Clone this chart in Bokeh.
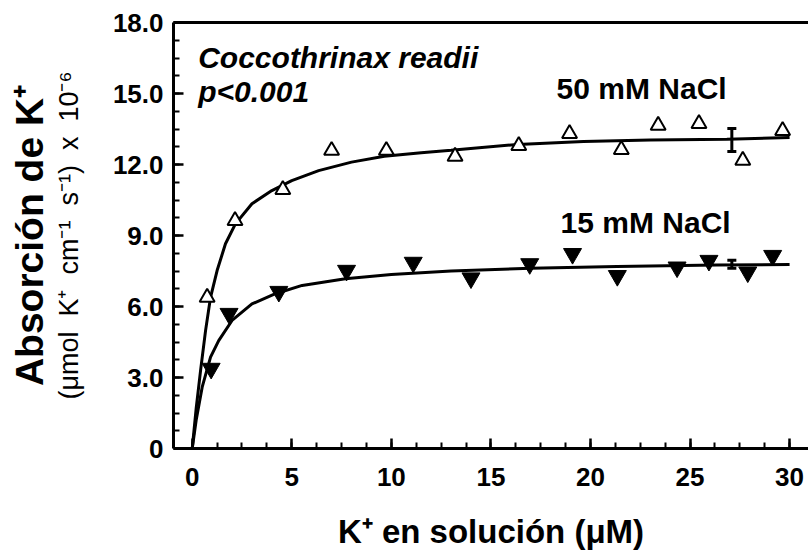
import numpy as np
from bokeh.plotting import figure
from bokeh.models import FixedTicker, Whisker, TeeHead, ColumnDataSource, Range1d, LinearAxis, Label
from bokeh.embed import file_html
from bokeh.resources import INLINE

# ---- data ----
x50 = [0.75, 2.15, 4.55, 7.0, 9.75, 13.2, 16.4, 18.95, 21.55, 23.4, 25.45, 27.65, 29.65]
y50 = [6.38, 9.63, 10.94, 12.59, 12.59, 12.34, 12.8, 13.3, 12.63, 13.65, 13.73, 12.17, 13.43]

x15 = [0.95, 1.85, 4.35, 7.75, 11.1, 14.0, 16.95, 19.1, 21.35, 24.35, 25.95, 27.9, 29.15]
y15 = [3.38, 5.7, 6.63, 7.52, 7.86, 7.2, 7.8, 8.23, 7.3, 7.66, 7.94, 7.45, 8.15]

# fitted curves
fit50_x = [0, 0.2, 0.42, 0.67, 0.92, 1.25, 1.67, 2.17, 3.0, 4.0, 5.0, 6.35, 8.0, 9.65, 11.5,
           13.0, 16.35, 19.65, 23.0, 26.85, 30.0]
fit50_y = [0, 1.7, 3.3, 4.98, 6.39, 7.52, 8.65, 9.49, 10.34, 10.9, 11.32, 11.74, 12.1, 12.35, 12.5,
           12.6, 12.85, 12.97, 13.03, 13.07, 13.14]

fit15_x = [0, 0.2, 0.5, 0.92, 1.33, 2.0, 3.0, 4.18, 5.52, 7.69, 10.0, 13.0, 17.0, 21.33, 26.33, 30.0]
fit15_y = [0, 1.2, 2.59, 3.86, 4.56, 5.41, 6.11, 6.54, 6.89, 7.17, 7.35, 7.5, 7.62, 7.69, 7.75, 7.77]

# error bars
err_x = [27.1, 27.1]
err_lo = [12.55, 7.62]
err_hi = [13.52, 7.95]

x_ticks = [0, 5, 10, 15, 20, 25, 30]
y_ticks = [0, 3, 6, 9, 12, 15, 18]
y_tick_labels = {0: "0", 3: "3.0", 6: "6.0", 9: "9.0", 12: "12.0", 15: "15.0", 18: "18.0"}

FONT = "Liberation Sans"
NB = "\u00a0"

p = figure(width=808, height=559, output_backend="svg", toolbar_location=None,
           x_range=Range1d(-0.94, 30.95), y_range=Range1d(0, 18),
           min_border_left=173, min_border_right=0, min_border_top=22, min_border_bottom=111)
p.background_fill_color = "white"
p.border_fill_color = "white"
p.grid.visible = False
p.outline_line_color = None

for ax in (p.xaxis[0], p.yaxis[0]):
    ax.axis_line_width = 3
    ax.axis_line_color = "black"
    ax.major_tick_in = 10
    ax.major_tick_out = 0
    ax.minor_tick_in = 6
    ax.minor_tick_out = 0
    ax.major_tick_line_width = 2.5
    ax.minor_tick_line_width = 2
    ax.major_label_text_font = FONT
    ax.major_label_text_font_style = "bold"
    ax.major_label_text_font_size = "26px"
    ax.major_label_text_color = "black"
    ax.axis_label_text_font = FONT
    ax.axis_label_text_color = "black"

p.xaxis.ticker = FixedTicker(ticks=x_ticks, minor_ticks=list(np.arange(0, 30.01, 1.25)))
p.yaxis.ticker = FixedTicker(ticks=y_ticks, minor_ticks=list(np.arange(0, 18.01, 0.75)))
p.yaxis.major_label_overrides = y_tick_labels
p.yaxis.major_label_standoff = 10
p.xaxis.major_label_standoff = 19

p.xaxis.axis_label = "K\u207a en soluci\u00f3n (\u03bcM)"
p.xaxis.axis_label_text_font_size = "33px"
p.xaxis.axis_label_text_font_style = "bold"
p.xaxis.axis_label_standoff = 24

p.yaxis.axis_label = ("(\u03bcmol " + NB + "K\u207a " + NB + "cm\u207b\u00b9 " + NB + "s\u207b\u00b9) "
                      + NB + "x " + NB + "10\u207b\u2076")
p.yaxis.axis_label_text_font_size = "27px"
p.yaxis.axis_label_text_font_style = "normal"
p.yaxis.axis_label_standoff = 26

outer = LinearAxis(ticker=FixedTicker(ticks=[]), axis_line_color=None,
                   major_tick_in=0, major_tick_out=0, minor_tick_in=0, minor_tick_out=0,
                   axis_label="Absorci\u00f3n de K\u207a", axis_label_text_font=FONT,
                   axis_label_text_font_size="39px", axis_label_text_font_style="bold",
                   axis_label_text_color="black", axis_label_standoff=0)
p.add_layout(outer, "left")

# top border of the frame (right side is cut off in the reference)
top = LinearAxis(ticker=FixedTicker(ticks=[]), axis_line_color="black", axis_line_width=3,
                 major_tick_in=0, major_tick_out=0, minor_tick_in=0, minor_tick_out=0)
p.add_layout(top, "above")

# curves
p.line(fit50_x, fit50_y, line_color="black", line_width=3)
p.line(fit15_x, fit15_y, line_color="black", line_width=3)

# points
p.scatter(x50, y50, marker="triangle", size=15, fill_color="white", line_color="black", line_width=2)
p.scatter(x15, y15, marker="inverted_triangle", size=18, fill_color="black", line_color="black", line_width=1)

src = ColumnDataSource(dict(x=err_x, lo=err_lo, hi=err_hi))
p.add_layout(Whisker(source=src, base="x", lower="lo", upper="hi", dimension="height",
                     line_width=3, line_color="black",
                     upper_head=TeeHead(size=9, line_width=3, line_color="black"),
                     lower_head=TeeHead(size=9, line_width=3, line_color="black")))

# texts
def lab(x, y, t, size, style="bold"):
    p.add_layout(Label(x=x, y=y, text=t, text_font=FONT, text_font_size=size,
                       text_font_style=style, text_align="left", text_baseline="alphabetic",
                       text_color="black"))

lab(0.3, 16.52, "Coccothrinax readii", "30px", "bold italic")
lab(0.3, 15.08, "p<0.001", "30px", "bold italic")
lab(18.3, 15.2, "50 mM NaCl", "30px")
lab(18.5, 9.55, "15 mM NaCl", "30px")

open("out.html", "w").write(file_html(p, INLINE))
